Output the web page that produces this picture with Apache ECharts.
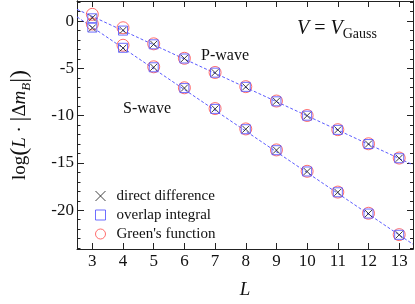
<!DOCTYPE html>
<html>
<head>
<meta charset="utf-8">
<script src="https://cdn.jsdelivr.net/npm/echarts@6/dist/echarts.min.js"></script>
<style>html,body{margin:0;padding:0;background:#fff}#c{width:415px;height:304px}</style>
</head>
<body>
<div id="c"></div>
<script>
// ---- data ----
const L = [3, 4, 5, 6, 7, 8, 9, 10, 11, 12, 13];
// P-wave
const pDirect  = [0.35, -0.97, -2.45, -3.95, -5.45, -6.95, -8.48, -10.0, -11.5, -13.0, -14.5];
const pOverlap = [0.30, -1.00, -2.45, -3.95, -5.45, -6.95, -8.48, -10.0, -11.5, -13.0, -14.5];
const pGreen   = [0.72, -0.70, -2.40, -3.93, -5.43, -6.93, -8.45, -9.98, -11.48, -12.97, -14.48];
// S-wave
const sDirect  = [-0.72, -2.85, -4.88, -7.08, -9.28, -11.43, -13.65, -15.90, -18.10, -20.35, -22.60];
const sOverlap = [-0.68, -2.82, -4.88, -7.08, -9.28, -11.43, -13.65, -15.90, -18.10, -20.35, -22.60];
const sGreen   = [-0.30, -2.55, -4.83, -7.05, -9.25, -11.40, -13.62, -15.88, -18.08, -20.32, -22.58];
// fitted lines (endpoints)
const fitP = [[2.5, 1.25], [13.45, -15.2]];
const fitS = [[2.5, 0.45], [13.45, -23.6]];
// ticks
const xTicks = L;
const yMajor = [0, -5, -10, -15, -20];
const yMinor = [2, 1, 0, -1, -2, -3, -4, -5, -6, -7, -8, -9, -10, -11, -12, -13, -14, -15, -16, -17, -18, -19, -20, -21, -22, -23, -24];
const names = ['direct difference', 'overlap integral', "Green's function"];

const FONT = 'Liberation Serif';
const axCol = '#222';
const pairs = (a, b) => L.map((l, i) => [l, a[i]]).concat(L.map((l, i) => [l, b[i]]));

const X_MIN = 2.5, X_MAX = 13.45, Y_MIN = -24.1, Y_MAX = 2.13;

function yAx(pos, custom, len, labels) {
  return {
    type: 'value', min: Y_MIN, max: Y_MAX, position: pos,
    axisLine: {show: true, onZero: false, lineStyle: {color: axCol, width: 1}},
    axisTick: {show: true, inside: true, length: len, customValues: custom, lineStyle: {color: axCol}},
    axisLabel: labels ? {show: true, customValues: yMajor, fontFamily: FONT, fontSize: 17, color: '#111', margin: 3} : {show: false},
    splitLine: {show: false}
  };
}

const chart = echarts.init(document.getElementById('c'), null, {renderer: 'canvas'});
chart.setOption({
  animation: false,
  grid: {left: 63, right: 2, top: 1, bottom: 40, containLabel: false},
  xAxis: [
    {
      type: 'value', min: X_MIN, max: X_MAX, position: 'bottom',
      axisLine: {onZero: false, lineStyle: {color: axCol, width: 1}},
      axisTick: {inside: true, length: 6, customValues: xTicks, lineStyle: {color: axCol}},
      axisLabel: {customValues: xTicks, fontFamily: FONT, fontSize: 17, color: '#111', margin: 4},
      splitLine: {show: false},
      name: 'L', nameLocation: 'middle', nameGap: 31,
      nameTextStyle: {fontFamily: FONT, fontStyle: 'italic', fontSize: 19, color: '#111'}
    },
    {
      type: 'value', min: X_MIN, max: X_MAX, position: 'top',
      axisLine: {onZero: false, lineStyle: {color: axCol, width: 1}},
      axisTick: {inside: true, length: 6, customValues: xTicks, lineStyle: {color: axCol}},
      axisLabel: {show: false}, splitLine: {show: false}
    }
  ],
  yAxis: [
    Object.assign(yAx('left', yMajor, 7, true), {
      name: '{n|log}{p|(}{i|L}{n| · }{p||}{n|Δ}{i|m}{s|B}{p||)}',
      nameLocation: 'middle', nameGap: 44, nameRotate: 90,
      nameTextStyle: {
        fontFamily: FONT, fontSize: 19, color: '#111',
        rich: {
          n: {fontFamily: FONT, fontSize: 19, color: '#111', lineHeight: 26},
          p: {fontFamily: FONT, fontSize: 24, color: '#111', lineHeight: 26},
          i: {fontFamily: FONT, fontSize: 19, fontStyle: 'italic', color: '#111', lineHeight: 26},
          s: {fontFamily: FONT, fontSize: 13, fontStyle: 'italic', color: '#111', verticalAlign: 'bottom', lineHeight: 15}
        }
      }
    }),
    yAx('left', yMinor, 3.5, false),
    yAx('right', yMajor, 6, false),
    yAx('right', yMinor, 3, false)
  ],
  legend: {
    orient: 'vertical', left: 90, top: 183, itemWidth: 10, itemHeight: 10, itemGap: 3,
    selectedMode: false,
    textStyle: {fontFamily: FONT, fontSize: 15, color: '#111', lineHeight: 16, padding: [0, 0, 0, 6]},
    itemStyle: {borderWidth: 1},
    data: [
      {name: names[0], icon: 'path://M0,0L1,1M1,0L0,1', itemStyle: {color: 'rgba(0,0,0,0)', borderColor: '#111', borderWidth: 1}},
      {name: names[1], icon: 'rect', itemStyle: {color: 'rgba(0,0,0,0)', borderColor: '#4a4aff', borderWidth: 1}},
      {name: names[2], icon: 'circle', itemStyle: {color: 'rgba(0,0,0,0)', borderColor: '#ff4a4a', borderWidth: 1}}
    ]
  },
  series: [
    {type: 'line', name: 'fitP', data: fitP, showSymbol: false, symbol: 'none', silent: true, z: 1,
      lineStyle: {type: [3, 2], color: '#5a5aff', width: 1}},
    {type: 'line', name: 'fitS', data: fitS, showSymbol: false, symbol: 'none', silent: true, z: 1,
      lineStyle: {type: [3, 2], color: '#5a5aff', width: 1}},
    {type: 'scatter', name: names[2], data: pairs(pGreen, sGreen), symbol: 'circle', symbolSize: 12, silent: true, z: 2,
      itemStyle: {color: 'rgba(0,0,0,0)', borderColor: '#ff4a4a', borderWidth: 1}},
    {type: 'scatter', name: names[1], data: pairs(pOverlap, sOverlap), symbol: 'rect', symbolSize: 9, silent: true, z: 3,
      itemStyle: {color: 'rgba(0,0,0,0)', borderColor: '#4a4aff', borderWidth: 1}},
    {type: 'scatter', name: names[0], data: pairs(pDirect, sDirect), symbol: 'path://M0,0L1,1M1,0L0,1', symbolSize: 7, silent: true, z: 4,
      itemStyle: {color: 'rgba(0,0,0,0)', borderColor: '#111', borderWidth: 1}}
  ],
  graphic: [
    {type: 'text', left: 201, top: 48, silent: true,
      style: {text: 'P-wave', font: '16px "Liberation Serif"', fill: '#111'}},
    {type: 'text', left: 123, top: 101, silent: true,
      style: {text: 'S-wave', font: '16px "Liberation Serif"', fill: '#111'}},
    {type: 'text', left: 297, top: 19, silent: true,
      style: {
        text: '{i|V}{n| = }{i|V}{s|Gauss}',
        rich: {
          i: {fontFamily: FONT, fontStyle: 'italic', fontSize: 20, fill: '#111', lineHeight: 24},
          n: {fontFamily: FONT, fontSize: 20, fill: '#111', lineHeight: 24},
          s: {fontFamily: FONT, fontSize: 14, fill: '#111', verticalAlign: 'bottom', lineHeight: 15}
        }
      }}
  ]
});
</script>
</body>
</html>
